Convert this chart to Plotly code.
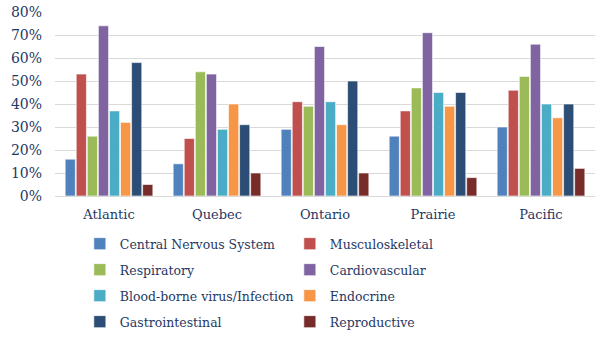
import plotly.graph_objects as go

regions = ["Atlantic", "Quebec", "Ontario", "Prairie", "Pacific"]
series_names = ["Central Nervous System", "Musculoskeletal", "Respiratory", "Cardiovascular",
                "Blood-borne virus/Infection", "Endocrine", "Gastrointestinal", "Reproductive"]
cns = [16, 14, 29, 26, 30]
musculo = [53, 25, 41, 37, 46]
resp = [26, 54, 39, 47, 52]
cardio = [74, 53, 65, 71, 66]
blood = [37, 29, 41, 45, 40]
endo = [32, 40, 31, 39, 34]
gastro = [58, 31, 50, 45, 40]
repro = [5, 10, 10, 8, 12]
series_values = [cns, musculo, resp, cardio, blood, endo, gastro, repro]
colors = ["#4F81BD", "#C0504D", "#9BBB59", "#8064A2", "#4BACC6", "#F79646", "#2C4D75", "#772C2A"]
y_ticks = [0, 10, 20, 30, 40, 50, 60, 70, 80]

FONT = "DejaVu Serif"
TXT = "#1F3864"

fig = go.Figure()
legend_ids = ["legend", "legend", "legend2", "legend2", "legend3", "legend3", "legend4", "legend4"]
for name, vals, col, lg in zip(series_names, series_values, colors, legend_ids):
    fig.add_trace(go.Bar(
        x=regions, y=[v / 100 for v in vals], name=name,
        marker=dict(color=col, line=dict(color="rgba(255,255,255,0.6)", width=1)),
        legend=lg,
    ))

row_y = [244, 270, 296, 322]
plot_top, plot_bot = 12, 196
ph = plot_bot - plot_top

def leg(rowpx):
    return dict(
        orientation="h", x=0.046, xanchor="left",
        y=(plot_bot - rowpx) / ph, yanchor="middle",
        font=dict(family=FONT, size=12.5, color=TXT),
        entrywidth=165, entrywidthmode="pixels",
        bgcolor="rgba(0,0,0,0)", itemclick=False, itemdoubleclick=False,
        tracegroupgap=0,
    )

fig.update_layout(
    width=609, height=338,
    margin=dict(l=55, r=14, t=plot_top, b=338 - plot_bot, autoexpand=False),
    plot_bgcolor="white", paper_bgcolor="white",
    barmode="group", bargap=0.18, bargroupgap=0.08,
    font=dict(family=FONT, color=TXT),
    xaxis=dict(showline=True, linecolor="#D9D9D9", linewidth=1, ticks="", automargin=False,
               tickfont=dict(family=FONT, size=13, color=TXT), ticklabelstandoff=6),
    yaxis=dict(range=[0, 0.8], tickvals=[t / 100 for t in y_ticks],
               ticktext=[f"{t}%" for t in y_ticks], automargin=False,
               showgrid=True, gridcolor="#D9D9D9", gridwidth=1, zeroline=False,
               tickfont=dict(family=FONT, size=14, color=TXT), ticklen=0, ticks="",
               ticklabelstandoff=12),
    legend=leg(row_y[0]), legend2=leg(row_y[1]), legend3=leg(row_y[2]), legend4=leg(row_y[3]),
    showlegend=True,
)

fig.write_html("out.html")
